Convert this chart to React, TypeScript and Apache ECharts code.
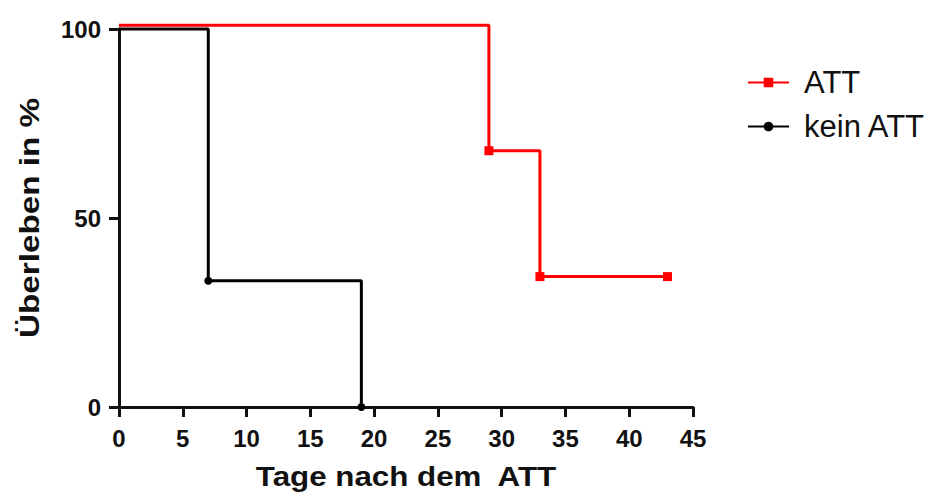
import React, { useEffect, useRef } from "react";
import * as echarts from "echarts";

const seriesNames = ["ATT", "kein ATT"];
const attDays = [0, 29, 33, 43];
const attSurvival = [101, 67.8, 34.5, 34.5];
const keinDays = [0, 7, 19];
const keinSurvival = [100, 33.4, 0];
const xTicks = [0, 5, 10, 15, 20, 25, 30, 35, 40, 45];
const yTicks = [0, 50, 100];
const xTitle = "Tage nach dem  ATT";
const yTitle = "Überleben in %";

export default function App() {
  const ref = useRef<HTMLDivElement>(null);
  useEffect(() => {
    if (!ref.current) return;
    const chart = echarts.init(ref.current, null, { renderer: "svg" });
    const font = "Liberation Sans, Arial, sans-serif";
    const mk = (xs: number[], ys: number[]) =>
      xs.map((x, i) => ({
        value: [x, ys[i]],
        symbol: i === 0 ? "none" : undefined,
      }));
    chart.setOption({
      animation: false,
      backgroundColor: "#fff",
      grid: { left: 119, top: 29, right: 237, bottom: 86 },
      legend: {
        orient: "vertical",
        left: 742,
        top: 62,
        itemWidth: 41,
        itemHeight: 12,
        itemGap: 13,
        textStyle: { fontFamily: font, fontSize: 31, lineHeight: 31, color: "#111", padding: [0, 0, 0, 10] },
        data: seriesNames,
      },
      graphic: [
        {
          type: "text",
          x: 406,
          y: 477,
          scaleX: 1.16,
          style: {
            text: xTitle,
            font: `bold 27px ${font}`,
            fill: "#111",
            textAlign: "center",
            textVerticalAlign: "middle",
          },
        },
        {
          type: "text",
          x: 30,
          y: 218,
          rotation: Math.PI / 2,
          scaleX: 1.23,
          style: {
            text: yTitle,
            font: `bold 27px ${font}`,
            fill: "#111",
            textAlign: "center",
            textVerticalAlign: "middle",
          },
        },
      ],
      xAxis: {
        type: "value",
        min: xTicks[0],
        max: xTicks[xTicks.length - 1],
        interval: 5,
        axisLine: { lineStyle: { color: "#111", width: 3 } },
        axisTick: { show: true, length: 10, lineStyle: { color: "#111", width: 3 } },
        axisLabel: { fontFamily: font, fontSize: 24, fontWeight: "bold", color: "#111", margin: 19 },
        splitLine: { show: false },
      },
      yAxis: {
        type: "value",
        min: yTicks[0],
        max: yTicks[yTicks.length - 1],
        interval: 50,
        axisLine: { show: true, lineStyle: { color: "#111", width: 3 } },
        axisTick: { show: true, length: 10, lineStyle: { color: "#111", width: 3 } },
        axisLabel: { fontFamily: font, fontSize: 24, fontWeight: "bold", color: "#111", margin: 18 },
        splitLine: { show: false },
      },
      series: [
        {
          name: seriesNames[0],
          type: "line",
          step: "end",
          clip: false,
          data: mk(attDays, attSurvival),
          symbol: "rect",
          symbolSize: 9,
          showAllSymbol: true,
          lineStyle: { color: "#ff0000", width: 3 },
          itemStyle: { color: "#ff0000" },
          z: 3,
        },
        {
          name: seriesNames[1],
          type: "line",
          step: "end",
          clip: false,
          data: mk(keinDays, keinSurvival),
          symbol: "circle",
          symbolSize: 8,
          showAllSymbol: true,
          lineStyle: { color: "#000", width: 3 },
          itemStyle: { color: "#000" },
          z: 4,
        },
      ],
    });
    return () => chart.dispose();
  }, []);
  return <div ref={ref} style={{ width: 930, height: 493, position: "absolute", left: 0, top: 0 }} />;
}
